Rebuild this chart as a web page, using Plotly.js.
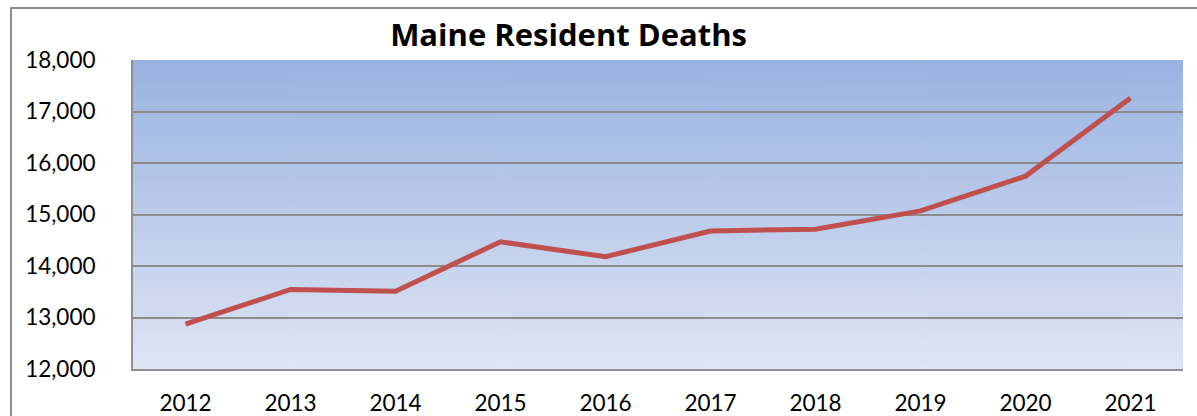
<!DOCTYPE html>
<html><head><meta charset="utf-8">
<script src="https://cdn.plot.ly/plotly-3.0.1.min.js"></script>
<style>
html,body{margin:0;padding:0;background:#fff;}
#wrap{position:relative;width:1197px;height:416px;overflow:hidden;}
#frame{position:absolute;left:10px;top:7px;width:1300px;height:500px;border-top:2px solid #8f8f8f;border-left:2px solid #8f8f8f;pointer-events:none;}
#chart{position:absolute;left:0;top:0;width:1197px;height:416px;}
</style></head>
<body><div id="wrap"><div id="chart"></div><div id="frame"></div></div>
<script>
const years = ["2012","2013","2014","2015","2016","2017","2018","2019","2020","2021"];
const deaths = [12870, 13545, 13510, 14470, 14180, 14680, 14715, 15070, 15745, 17260];
const yTicks = [12000, 13000, 14000, 15000, 16000, 17000, 18000];
const yTickText = ["12,000","13,000","14,000","15,000","16,000","17,000","18,000"];

// gradient background image
const cv = document.createElement('canvas');
cv.width = 10; cv.height = 300;
const ctx = cv.getContext('2d');
const g = ctx.createLinearGradient(0,0,0,300);
g.addColorStop(0,'#98b3e2');
g.addColorStop(1,'#dfe5f4');
ctx.fillStyle = g; ctx.fillRect(0,0,10,300);
const bg = cv.toDataURL();

const trace = {
  x: years, y: deaths, type: 'scatter', mode: 'lines',
  line: {color: '#c0504d', width: 5}, hoverinfo: 'x+y'
};
const layout = {
  width: 1197, height: 416,
  margin: {l: 133, r: 14, t: 60, b: 47},
  paper_bgcolor: 'rgba(0,0,0,0)', plot_bgcolor: 'rgba(0,0,0,0)',
  font: {family: 'Lato, "Open Sans", sans-serif', color: '#000', size: 22.5},
  title: {text: '<b>Maine Resident Deaths</b>', font: {size: 31, color: '#000', family: '"Open Sans", sans-serif'},
          x: 0.475, xref: 'container', xanchor: 'center', y: 0.915, yref: 'container', yanchor: 'middle'},
  showlegend: false,
  xaxis: {type: 'category', range: [-0.5, 9.5], showgrid: false, zeroline: false,
          showline: true, linecolor: '#8f8f8f', linewidth: 2, ticks: '', ticklabelstandoff: 13,
          tickfont: {size: 22.5}},
  yaxis: {range: [12000, 18000], tickvals: yTicks, ticktext: yTickText, showgrid: true,
          gridcolor: '#8c8c8c', gridwidth: 2, zeroline: false, showline: true, linecolor: '#8f8f8f',
          linewidth: 2, ticks: '', ticklabelstandoff: 31, tickfont: {size: 22.5}},
  images: [{source: bg, xref: 'paper', yref: 'paper', x: 0, y: 1, sizex: 1, sizey: 1,
            sizing: 'stretch', xanchor: 'left', yanchor: 'top', layer: 'below'}]
};
Plotly.newPlot('chart', [trace], layout, {displayModeBar: false, staticPlot: true});
</script></body></html>
